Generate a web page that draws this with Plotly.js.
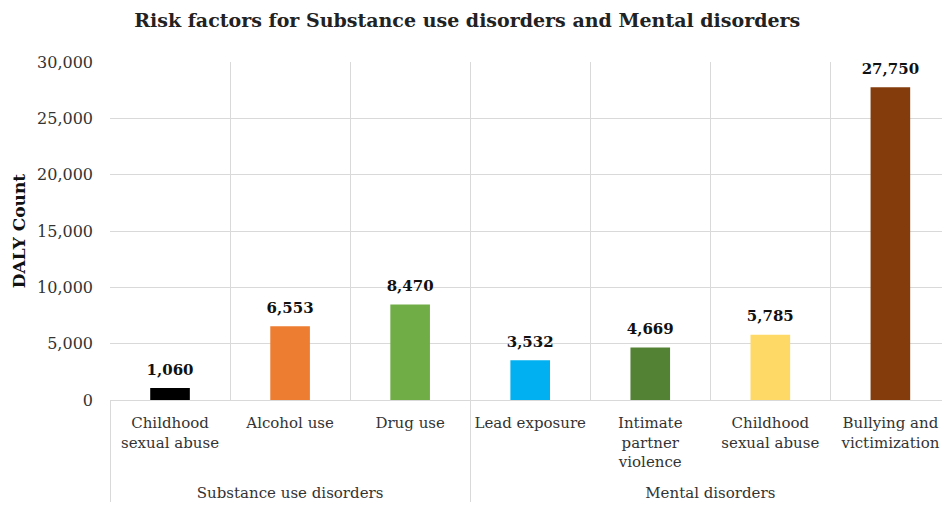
<!DOCTYPE html>
<html>
<head>
<meta charset="utf-8">
<script src="https://cdn.plot.ly/plotly-3.0.1.min.js"></script>
<style>html,body{margin:0;padding:0;background:#fff;}#chart{width:942px;height:509px;}</style>
</head>
<body>
<div id="chart"></div>
<script>
const groups = ["Substance use disorders","Substance use disorders","Substance use disorders","Mental disorders","Mental disorders","Mental disorders","Mental disorders"];
const categories = ["Childhood<br>sexual abuse","Alcohol use","Drug use","Lead exposure","Intimate<br>partner<br>violence","Childhood<br>sexual abuse\u200b","Bullying and<br>victimization"];
const dalyCounts = [1060, 6553, 8470, 3532, 4669, 5785, 27750];
const barColors = ["#000000","#ED7D31","#70AD47","#00B0F0","#548235","#FFD966","#843C0C"];
const yTicks = [0, 5000, 10000, 15000, 20000, 25000, 30000];

const serif = "DejaVu Serif, serif";
const groupLabels = groups.map(g => "<br>" + g);

const bars = {
  type: "bar",
  x: [groupLabels, categories],
  y: dalyCounts,
  width: 0.33,
  marker: {color: barColors},
  hoverinfo: "none"
};

const valueLabels = {
  type: "scatter",
  mode: "markers+text",
  x: [groupLabels, categories],
  y: dalyCounts,
  marker: {size: 14, color: "rgba(0,0,0,0)"},
  text: dalyCounts.map(v => v.toLocaleString("en-US")),
  textposition: "top center",
  textfont: {family: serif, size: 15, color: "#111", weight: "bold"},
  cliponaxis: false,
  hoverinfo: "none"
};

const layout = {
  width: 942, height: 509,
  margin: {l: 110, r: 0, t: 62, b: 109},
  paper_bgcolor: "#fff", plot_bgcolor: "#fff",
  showlegend: false,
  title: {
    text: "<b>Risk factors for Substance use disorders and Mental disorders</b>",
    font: {family: serif, size: 19, color: "#222"},
    x: 0.496, xref: "container", xanchor: "center",
    y: 0.96, yref: "container", yanchor: "middle"
  },
  xaxis: {
    type: "multicategory",
    range: [-0.5, 6.43],
    tickson: "boundaries",
    showgrid: true, gridcolor: "#d9d9d9", gridwidth: 1,
    showline: true, linecolor: "#d9d9d9", linewidth: 1,
    showdividers: true, dividercolor: "#d9d9d9", dividerwidth: 1,
    ticks: "", ticklen: 0, ticklabelstandoff: 9,
    tickfont: {family: serif, size: 15, color: "#333"},
    tickangle: 0
  },
  yaxis: {
    range: [0, 30000],
    tickvals: yTicks,
    ticktext: yTicks.map(v => v.toLocaleString("en-US")),
    showgrid: true, gridcolor: "#d9d9d9", gridwidth: 1,
    zeroline: false, showline: false,
    ticks: "", ticklabelstandoff: 16,
    tickfont: {family: serif, size: 16, color: "#333"},
    title: {text: "<b>DALY Count</b>", font: {family: serif, size: 17, color: "#111"}, standoff: 7}
  }
};

Plotly.newPlot("chart", [bars, valueLabels], layout, {displayModeBar: false, staticPlot: true});
</script>
</body>
</html>
